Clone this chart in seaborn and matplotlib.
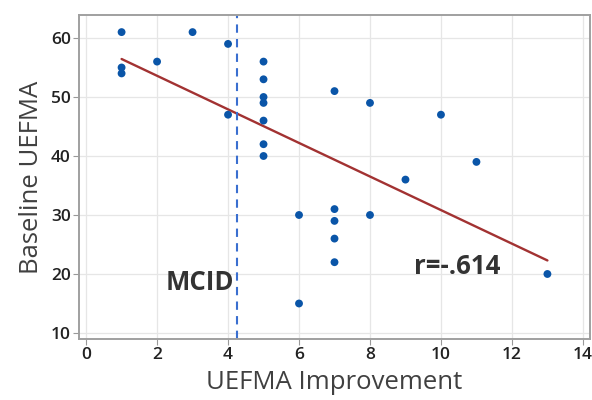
import matplotlib
matplotlib.use("Agg")
import matplotlib.pyplot as plt
import seaborn as sns
import pandas as pd

improvement = [1, 1, 1, 2, 3, 4, 4, 5, 5, 5, 5, 5, 5, 5, 6, 6, 7, 7, 7, 7, 7, 8, 8, 9, 10, 11, 13]
baseline = [61, 55, 54, 56, 61, 59, 47, 56, 53, 50, 49, 46, 42, 40, 30, 15, 51, 31, 29, 26, 22, 49, 30, 36, 47, 39, 20]
mcid = 4.25
x_ticks = [0, 2, 4, 6, 8, 10, 12, 14]
y_ticks = [10, 20, 30, 40, 50, 60]

df = pd.DataFrame({"UEFMA Improvement": improvement, "Baseline UEFMA": baseline})

sns.set_theme(style="whitegrid")
plt.rcParams['font.family'] = ['Open Sans', 'DejaVu Sans']

fig = plt.figure(figsize=(5.92, 4.0), dpi=100)
ax = fig.add_axes([79 / 592, 1 - 339 / 400, (590 - 79) / 592, (339 - 15) / 400])

sns.regplot(data=df, x="UEFMA Improvement", y="Baseline UEFMA", ax=ax, ci=None,
            scatter_kws=dict(color="#0a55a8", s=32, edgecolor="none", alpha=1, zorder=3),
            line_kws=dict(color="#a23232", lw=1.7, zorder=2))

ax.axvline(mcid, color="#3a6fd0", lw=1.5, ls=(0, (4, 3)), zorder=2)

ax.set_xlim(-0.2, 14.2)
ax.set_ylim(8.98, 63.9)
ax.set_xticks(x_ticks)
ax.set_yticks(y_ticks)

for s in ax.spines.values():
    s.set_color("#a0a0a0")
    s.set_linewidth(1.4)
    s.set_visible(True)
ax.grid(True, color="#e6e6e6", lw=0.9)
ax.tick_params(axis="both", which="both", length=4, width=0.8, color="#999999",
               labelsize=12.5, labelcolor="#222222", direction="out", pad=2,
               bottom=True, left=True)
for lab in ax.get_xticklabels() + ax.get_yticklabels():
    lab.set_fontweight("semibold")

ax.set_xlabel("UEFMA Improvement", fontsize=18.5, color="#404040", labelpad=5)
ax.set_ylabel("Baseline UEFMA", fontsize=18.5, color="#404040", labelpad=5)

ax.text(3.2, 18.5, "MCID", fontsize=18.5, fontweight="bold", color="#333333",
        ha="center", va="center")
ax.text(10.45, 21.2, "r=-.614", fontsize=18.5, fontweight="bold", color="#333333",
        ha="center", va="center")

fig.savefig("out.png", dpi=100)
